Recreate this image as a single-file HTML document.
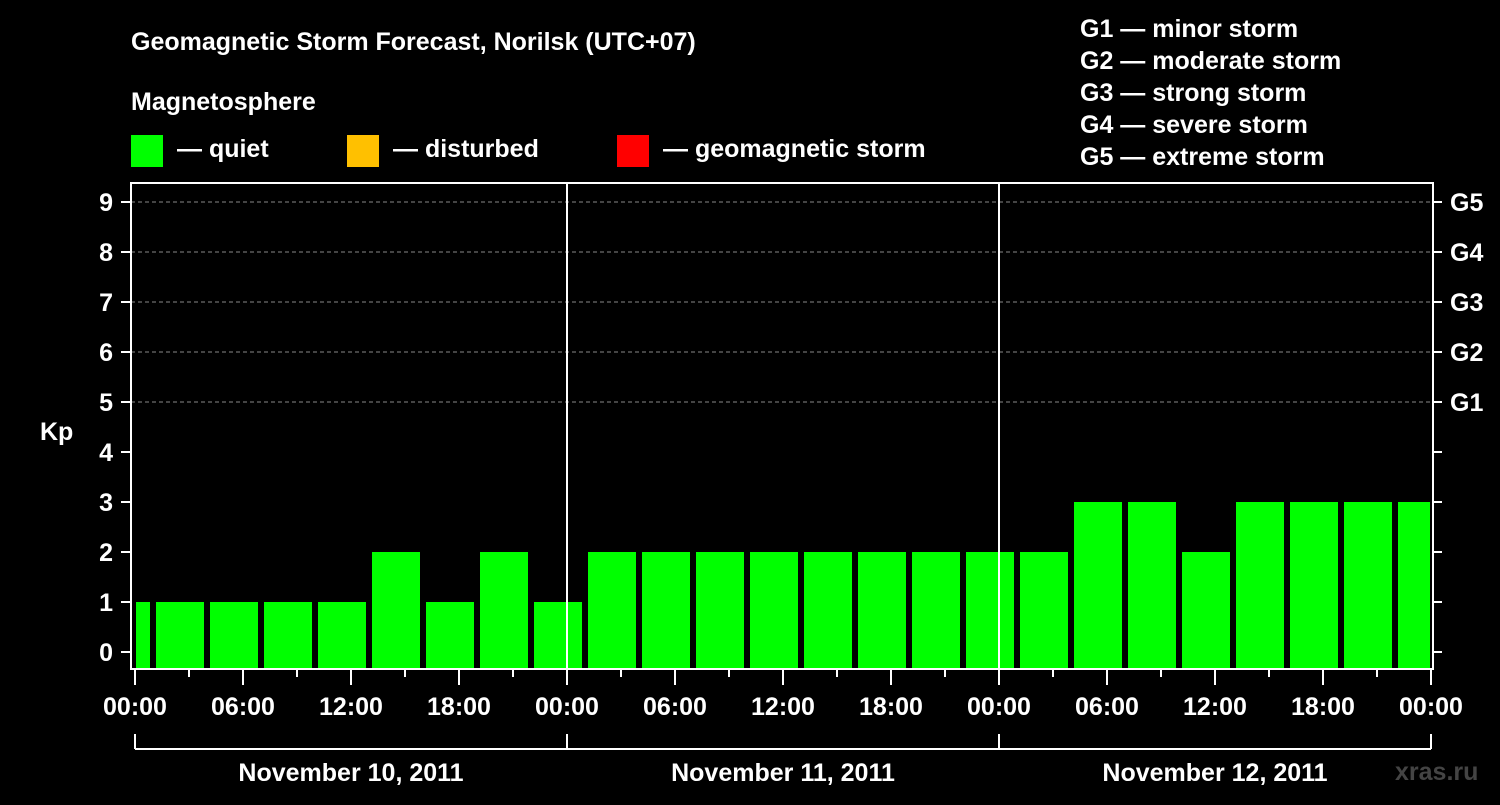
<!DOCTYPE html>
<html><head><meta charset="utf-8"><style>
body{margin:0;background:#000;}
svg text{font-family:"Liberation Sans",sans-serif;font-weight:bold;fill:#fff;}
</style></head><body>
<svg width="1500" height="800" viewBox="0 0 1500 800" xmlns="http://www.w3.org/2000/svg">
<rect width="1500" height="800" fill="#000"/>
<text x="131" y="50" font-size="25">Geomagnetic Storm Forecast, Norilsk (UTC+07)</text>
<text x="131" y="110" font-size="25">Magnetosphere</text>
<g><rect x="131" y="135" width="32" height="32" fill="#00ff00"/><text x="177" y="157" font-size="25">— quiet</text></g>
<g><rect x="347" y="135" width="32" height="32" fill="#ffc000"/><text x="393" y="157" font-size="25">— disturbed</text></g>
<g><rect x="617" y="135" width="32" height="32" fill="#ff0000"/><text x="663" y="157" font-size="25">— geomagnetic storm</text></g>
<g font-size="25">
<text x="1080" y="37">G1 — minor storm</text>
<text x="1080" y="69">G2 — moderate storm</text>
<text x="1080" y="101">G3 — strong storm</text>
<text x="1080" y="133">G4 — severe storm</text>
<text x="1080" y="165">G5 — extreme storm</text>
</g>
<text x="40" y="440" font-size="25">Kp</text>
<g id="grid"></g>
<g id="bars"></g>
<g id="axes"></g>
<text x="1395" y="780" font-size="25" fill="#444" style="fill:#444">xras.ru</text>
</svg>
<script>
const kpValues=[1,1,1,1,1,2,1,2,1,2,2,2,2,2,2,2,2,2,3,3,2,3,3,3,3];
const yTicks=[0,1,2,3,4,5,6,7,8,9];
const gLabels=["G1","G2","G3","G4","G5"];
const xLabels=["00:00","06:00","12:00","18:00","00:00","06:00","12:00","18:00","00:00","06:00","12:00","18:00","00:00"];
const dayLabels=["November 10, 2011","November 11, 2011","November 12, 2011"];
const NS="http://www.w3.org/2000/svg";
const L=131,R=1433,T=183,B=669;
const x=h=>135+h*18;
const y=v=>652-v*50;
function mk(t,a,p){const e=document.createElementNS(NS,t);for(const k in a)e.setAttribute(k,a[k]);p.appendChild(e);return e;}
const grid=document.getElementById('grid'),bars=document.getElementById('bars'),axes=document.getElementById('axes');
yTicks.forEach(v=>{
 if(v>=5){const g=mk('line',{x1:L,x2:R,y1:y(v),y2:y(v),stroke:'#888','stroke-dasharray':'4,3','stroke-width':1},grid);
 
 }
 mk('line',{x1:121,x2:L,y1:y(v),y2:y(v),stroke:'#fff','stroke-width':2},axes);
 mk('line',{x1:R,x2:1442,y1:y(v),y2:y(v),stroke:'#fff','stroke-width':2},axes);
 const t=mk('text',{x:113,y:y(v)+9,'font-size':25,'text-anchor':'end'},axes);t.textContent=v;
 
 
});
gLabels.forEach((g,i)=>{const t=mk('text',{x:1450,y:y(5+i)+9,'font-size':25},axes);t.textContent=g;
 
 });
kpValues.forEach((v,i)=>{
 const h0=-2+3*i;let x0=x(h0)+3,x1=x(h0+3)-3;x0=Math.max(x0,136);x1=Math.min(x1,1430);
 const c=v>=5?'#ff0000':(v>=4?'#ffc000':'#00ff00');
 const r=mk('rect',{x:x0,y:y(v),width:x1-x0,height:668-y(v),fill:c},bars);
 
 
});
[1,2].forEach(d=>mk('line',{x1:x(24*d),x2:x(24*d),y1:T,y2:B,stroke:'#fff','stroke-width':2},axes));
const fr=mk('rect',{x:L,y:T,width:R-L,height:B-T,fill:'none',stroke:'#fff','stroke-width':2},axes);


for(let h=0;h<=72;h+=3){const maj=h%6==0;mk('line',{x1:x(h),x2:x(h),y1:B,y2:maj?685:677,stroke:'#fff','stroke-width':2},axes);}
xLabels.forEach((s,i)=>{const t=mk('text',{x:x(i*6),y:715,'font-size':25,'text-anchor':'middle'},axes);t.textContent=s;
 
 });
mk('line',{x1:x(0),x2:x(72),y1:749,y2:749,stroke:'#fff','stroke-width':2},axes);
for(let d=0;d<=3;d++)mk('line',{x1:x(24*d),x2:x(24*d),y1:734,y2:749,stroke:'#fff','stroke-width':2},axes);
dayLabels.forEach((s,i)=>{const t=mk('text',{x:x(24*i+12),y:781,'font-size':25,'text-anchor':'middle'},axes);t.textContent=s;
 
 });
</script>
</body></html>
